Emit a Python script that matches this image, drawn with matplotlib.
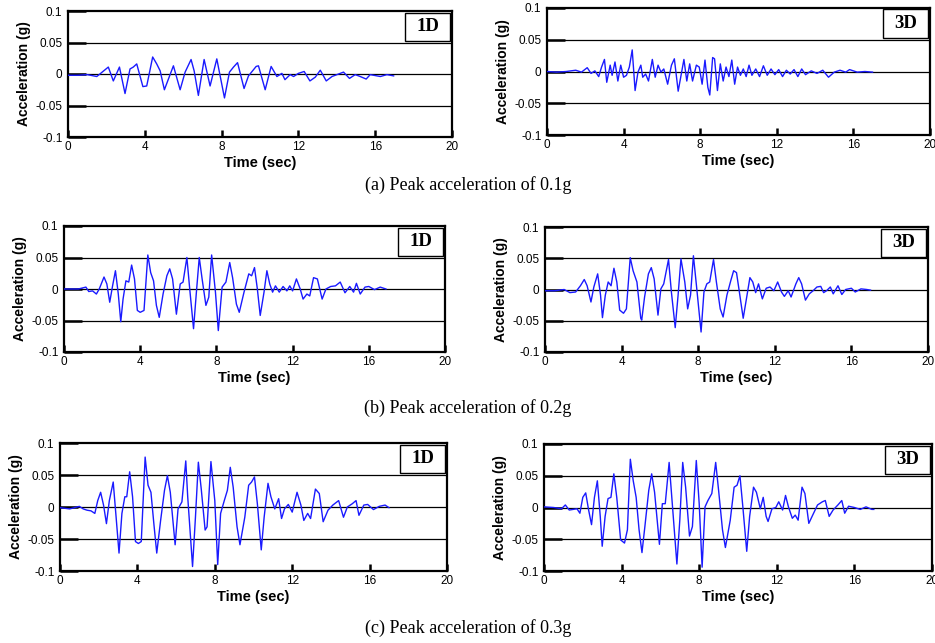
import matplotlib
matplotlib.use("Agg")
import matplotlib.pyplot as plt
from matplotlib.patches import Rectangle

# =====================================================
# DATA (acceleration in g, time in sec)
# =====================================================

t_a1 = [0, 0.5, 1.0, 1.5, 2.1, 2.36, 2.68, 2.97, 3.23, 3.4, 3.58, 3.9, 4.1, 4.41, 4.62, 4.8,
        5.02, 5.49, 5.84, 6.1, 6.41, 6.57, 6.79, 7.09, 7.4, 7.75, 8.15, 8.41, 8.62, 8.83, 9.17,
        9.4, 9.8, 9.92, 10.27, 10.58, 10.88, 11.14, 11.3, 11.57, 11.75, 12.0, 12.3, 12.6, 12.88,
        13.14, 13.45, 13.75, 14.35, 14.66, 14.96, 15.22, 15.53, 15.74, 16.27, 16.61, 16.96]
a_a1 = [-0.002, -0.002, -0.001, -0.004, 0.011, -0.011, 0.011, -0.031, 0.008, 0.011, 0.016,
        -0.020, -0.019, 0.027, 0.016, 0.005, -0.025, 0.013, -0.025, 0.003, 0.023, 0.005, -0.034,
        0.023, -0.019, 0.024, -0.038, 0.003, 0.011, 0.018, -0.023, -0.003, 0.012, 0.013, -0.025,
        0.012, -0.004, 0.001, -0.009, -0.001, -0.004, 0.001, 0.004, -0.011, -0.005, 0.006,
        -0.011, -0.004, 0.003, -0.007, -0.001, -0.004, -0.008, -0.001, -0.004, -0.001, -0.003]

t_a3 = [0, 0.5, 1.0, 1.5, 1.8, 2.1, 2.3, 2.5, 2.7, 2.85, 3.0, 3.12, 3.3, 3.4, 3.55, 3.7, 3.85,
        4.0, 4.15, 4.3, 4.45, 4.6, 4.75, 4.9, 5.0, 5.15, 5.3, 5.5, 5.65, 5.8, 5.95, 6.1, 6.3,
        6.5, 6.65, 6.85, 7.0, 7.15, 7.3, 7.45, 7.6, 7.8, 7.95, 8.1, 8.25, 8.4, 8.5, 8.65, 8.75,
        8.9, 9.05, 9.2, 9.35, 9.5, 9.65, 9.8, 9.95, 10.1, 10.25, 10.4, 10.55, 10.7, 10.9, 11.1,
        11.3, 11.5, 11.7, 11.9, 12.1, 12.3, 12.5, 12.7, 12.9, 13.1, 13.3, 13.5, 13.8, 14.1,
        14.4, 14.7, 15.0, 15.3, 15.6, 15.8, 16.2, 16.6, 17.0]
a_a3 = [0.000, -0.001, 0.000, 0.002, -0.001, 0.006, -0.003, 0.001, -0.008, 0.007, 0.019,
        -0.017, 0.010, -0.006, 0.015, -0.015, 0.010, -0.009, -0.006, 0.007, 0.034, -0.030,
        -0.001, 0.010, -0.009, -0.004, -0.015, 0.019, -0.009, 0.010, -0.001, 0.004, -0.020,
        0.010, 0.020, -0.031, -0.006, 0.019, -0.015, 0.012, -0.015, 0.010, 0.007, -0.020,
        0.018, -0.025, -0.037, 0.022, 0.020, -0.030, 0.012, -0.015, 0.007, -0.008, 0.018,
        -0.020, 0.007, -0.006, 0.004, -0.008, 0.010, -0.006, 0.004, -0.008, 0.009, -0.006,
        0.004, -0.005, 0.003, -0.008, 0.002, -0.004, 0.003, -0.008, 0.004, -0.005, 0.001,
        -0.003, 0.002, -0.009, -0.001, 0.002, -0.001, 0.003, -0.001, 0.000, -0.001]

t_b1 = [0, 0.75, 1.15, 1.3, 1.5, 1.7, 1.85, 2.1, 2.25, 2.4, 2.55, 2.7, 2.85, 2.98, 3.1, 3.25,
        3.4, 3.55, 3.7, 3.85, 4.0, 4.2, 4.4, 4.55, 4.7, 4.85, 5.0, 5.2, 5.4, 5.55, 5.7, 5.9,
        6.1, 6.25, 6.45, 6.6, 6.8, 6.95, 7.1, 7.25, 7.45, 7.6, 7.75, 7.95, 8.1, 8.3, 8.5, 8.7,
        8.85, 9.05, 9.2, 9.45, 9.7, 9.85, 10.0, 10.15, 10.3, 10.5, 10.65, 10.8, 10.95, 11.1,
        11.3, 11.5, 11.7, 11.85, 12.0, 12.2, 12.4, 12.55, 12.75, 12.9, 13.1, 13.3, 13.55,
        13.75, 14.0, 14.25, 14.5, 14.75, 15.0, 15.2, 15.35, 15.55, 15.8, 16.0, 16.3, 16.6, 16.9]
a_b1 = [0.000, 0.000, 0.003, -0.004, -0.003, -0.008, 0.000, 0.019, 0.008, -0.021, 0.005,
        0.029, -0.008, -0.052, -0.016, 0.013, 0.011, 0.038, 0.016, -0.034, -0.037, -0.034,
        0.054, 0.026, 0.013, -0.026, -0.045, -0.008, 0.021, 0.032, 0.016, -0.040, 0.008,
        0.011, 0.050, 0.000, -0.063, -0.005, 0.050, 0.016, -0.026, -0.013, 0.054, -0.005,
        -0.066, 0.003, 0.011, 0.042, 0.018, -0.024, -0.037, -0.005, 0.024, 0.021, 0.034,
        0.000, -0.042, -0.005, 0.029, 0.008, -0.005, 0.005, -0.005, 0.004, -0.003, 0.005,
        -0.003, 0.016, 0.000, -0.016, -0.008, -0.011, 0.018, 0.016, -0.016, 0.000, 0.004,
        0.005, 0.011, -0.006, 0.004, -0.005, 0.009, -0.008, 0.003, 0.004, -0.001, 0.003, 0.000]

t_b3 = [0, 0.5, 1.0, 1.3, 1.6, 1.85, 2.05, 2.2, 2.4, 2.55, 2.75, 2.9, 3.0, 3.15, 3.3, 3.45,
        3.6, 3.75, 3.9, 4.1, 4.25, 4.45, 4.6, 4.8, 5.0, 5.05, 5.2, 5.4, 5.55, 5.7, 5.9, 6.05,
        6.2, 6.45, 6.6, 6.8, 6.95, 7.1, 7.3, 7.45, 7.6, 7.75, 7.9, 8.15, 8.3, 8.45, 8.6, 8.8,
        8.95, 9.15, 9.3, 9.5, 9.7, 9.85, 10.0, 10.15, 10.35, 10.55, 10.7, 10.85, 11.0, 11.15,
        11.35, 11.55, 11.75, 11.95, 12.15, 12.35, 12.5, 12.7, 12.85, 13.1, 13.25, 13.4, 13.6,
        13.8, 14.0, 14.2, 14.4, 14.55, 14.7, 14.9, 15.05, 15.3, 15.5, 15.7, 16.0, 16.2, 16.5,
        16.8, 17.0]
a_b3 = [-0.002, -0.002, 0.000, -0.005, -0.004, 0.006, 0.016, 0.006, -0.020, 0.004, 0.025,
        -0.009, -0.045, -0.009, 0.012, 0.006, 0.034, 0.012, -0.033, -0.038, -0.031, 0.051,
        0.030, 0.012, -0.046, -0.049, -0.012, 0.025, 0.035, 0.017, -0.041, 0.001, 0.009,
        0.048, -0.004, -0.061, -0.009, 0.049, 0.012, -0.031, -0.009, 0.054, 0.009, -0.068,
        -0.004, 0.009, 0.012, 0.048, 0.012, -0.031, -0.044, -0.009, 0.014, 0.030, 0.027,
        -0.004, -0.046, -0.009, 0.019, 0.012, -0.005, 0.009, -0.015, 0.002, 0.004, -0.002,
        0.012, -0.004, -0.011, -0.002, -0.012, 0.009, 0.019, 0.009, -0.017, -0.007, -0.002,
        0.004, 0.005, -0.005, -0.002, 0.004, -0.007, 0.006, -0.008, 0.000, 0.002, -0.004,
        0.001, 0.000, -0.001]

t_c1 = [0, 0.5, 1.0, 1.2, 1.4, 1.6, 1.8, 1.95, 2.1, 2.25, 2.4, 2.55, 2.75, 2.9, 3.05, 3.2,
        3.35, 3.45, 3.6, 3.75, 3.9, 4.05, 4.2, 4.4, 4.55, 4.7, 4.85, 5.0, 5.2, 5.4, 5.55, 5.7,
        5.95, 6.1, 6.3, 6.5, 6.6, 6.85, 7.0, 7.15, 7.3, 7.5, 7.6, 7.8, 8.0, 8.15, 8.3, 8.5,
        8.65, 8.8, 8.95, 9.15, 9.3, 9.55, 9.75, 9.9, 10.05, 10.2, 10.4, 10.55, 10.75, 10.9,
        11.1, 11.3, 11.45, 11.6, 11.8, 12.0, 12.25, 12.45, 12.6, 12.8, 12.95, 13.2, 13.4, 13.6,
        13.85, 14.1, 14.4, 14.65, 14.85, 15.1, 15.3, 15.45, 15.7, 15.9, 16.2, 16.5, 16.8, 17.0]
a_c1 = [-0.001, -0.003, 0.001, -0.003, -0.005, -0.006, -0.010, 0.010, 0.023, 0.003, -0.026,
        0.010, 0.039, -0.016, -0.072, -0.010, 0.016, 0.016, 0.055, 0.016, -0.054, -0.057,
        -0.054, 0.078, 0.034, 0.023, -0.026, -0.072, -0.021, 0.026, 0.049, 0.023, -0.059,
        -0.003, 0.008, 0.072, 0.016, -0.093, -0.016, 0.070, 0.028, -0.036, -0.031, 0.071,
        0.010, -0.090, -0.010, 0.011, 0.026, 0.062, 0.031, -0.031, -0.059, -0.016, 0.034,
        0.039, 0.047, 0.005, -0.067, -0.016, 0.037, 0.016, -0.003, 0.013, -0.018, -0.003,
        0.004, -0.008, 0.023, 0.003, -0.021, -0.010, -0.018, 0.028, 0.021, -0.023, -0.005,
        0.003, 0.010, -0.016, 0.000, 0.005, 0.010, -0.013, 0.003, 0.004, -0.004, 0.001,
        0.003, -0.001]

t_c3 = [0, 0.5, 0.9, 1.1, 1.3, 1.5, 1.7, 1.85, 2.0, 2.15, 2.3, 2.45, 2.6, 2.75, 2.9, 3.0,
        3.15, 3.3, 3.45, 3.6, 3.75, 3.95, 4.15, 4.3, 4.45, 4.6, 4.75, 4.9, 5.05, 5.2, 5.4,
        5.55, 5.7, 5.95, 6.1, 6.25, 6.45, 6.6, 6.85, 7.0, 7.15, 7.3, 7.5, 7.65, 7.85, 8.0,
        8.15, 8.3, 8.45, 8.65, 8.85, 9.0, 9.2, 9.35, 9.6, 9.8, 9.95, 10.1, 10.25, 10.45, 10.6,
        10.8, 10.95, 11.15, 11.3, 11.45, 11.55, 11.75, 11.95, 12.1, 12.3, 12.45, 12.6, 12.8,
        12.95, 13.1, 13.3, 13.45, 13.65, 13.85, 14.1, 14.35, 14.5, 14.7, 14.9, 15.15, 15.35,
        15.5, 15.7, 16.0, 16.3, 16.6, 16.9, 17.0]
a_c3 = [0.001, 0.000, -0.002, 0.004, -0.004, -0.003, -0.002, -0.009, 0.016, 0.023, -0.004,
        -0.027, 0.016, 0.042, -0.014, -0.061, -0.014, 0.014, 0.016, 0.053, 0.016, -0.051,
        -0.056, -0.035, 0.076, 0.042, 0.016, -0.035, -0.071, -0.030, 0.027, 0.053, 0.024,
        -0.058, 0.006, 0.006, 0.071, 0.011, -0.089, -0.020, 0.071, 0.032, -0.045, -0.030,
        0.074, 0.006, -0.094, 0.001, 0.011, 0.022, 0.071, 0.027, -0.035, -0.063, -0.020,
        0.032, 0.035, 0.050, 0.001, -0.069, -0.014, 0.032, 0.024, -0.002, 0.016, -0.014,
        -0.022, -0.002, 0.000, 0.009, -0.004, 0.019, 0.001, -0.017, -0.012, -0.020, 0.032,
        0.022, -0.025, -0.012, 0.004, 0.009, 0.011, -0.014, -0.004, 0.004, 0.011, -0.009,
        0.002, 0.000, -0.003, 0.001, -0.003, -0.003]

panel_tags = ["1D", "3D"]
captions = ["(a) Peak acceleration of 0.1g",
            "(b) Peak acceleration of 0.2g",
            "(c) Peak acceleration of 0.3g"]

y_ticks = [-0.1, -0.05, 0, 0.05, 0.1]
y_ticklabels = ["-0.1", "-0.05", "0", "0.05", "0.1"]
x_ticks = [0, 4, 8, 12, 16, 20]

series = [
    [(t_a1, a_a1), (t_a3, a_a3)],
    [(t_b1, a_b1), (t_b3, a_b3)],
    [(t_c1, a_c1), (t_c3, a_c3)],
]

# =====================================================
# LAYOUT (pixel boxes: left, right, top, bottom)
# =====================================================

W, H = 935, 643

boxes = [
    [(68, 452, 11, 137), (547, 930, 8, 135)],
    [(64, 445, 226, 352), (545, 928, 227, 352)],
    [(60, 447, 443, 571), (544, 932, 444, 571)],
]
caption_y = [185, 408, 628]

SANS = "Liberation Sans"
SERIF = "Liberation Serif"

fig = plt.figure(figsize=(W / 100, H / 100), dpi=100)
fig.patch.set_facecolor("white")

for r in range(3):
    for c in range(2):
        l, rr, t, b = boxes[r][c]
        aw, ah = rr - l, b - t
        ax = fig.add_axes([l / W, 1 - b / H, aw / W, ah / H])
        tt, aa = series[r][c]

        for gy in [-0.05, 0, 0.05]:
            ax.axhline(gy, color="black", lw=0.9, zorder=1)

        ax.plot(tt, aa, color="#1a1aff", lw=1.0, zorder=3)

        ax.set_xlim(0, 20)
        ax.set_ylim(-0.1, 0.1)

        ax.set_xticks(x_ticks)
        ax.set_xticklabels([str(v) for v in x_ticks], fontfamily=SANS, fontsize=8.5)
        ax.set_yticks(y_ticks)
        ax.set_yticklabels(y_ticklabels, fontfamily=SANS, fontsize=8.5)

        ax.tick_params(axis="y", direction="in", length=13, width=1.8, pad=4)
        ax.tick_params(axis="x", direction="in", length=5, width=1.8, pad=3)

        for sp in ax.spines.values():
            sp.set_linewidth(1.6)
            sp.set_color("black")

        ax.set_xlabel("Time (sec)", fontfamily=SANS, fontsize=10.5,
                      fontweight="bold", labelpad=2)
        ax.set_ylabel("Acceleration (g)", fontfamily=SANS, fontsize=10,
                      fontweight="bold", labelpad=3)

        # tag box in the top-right corner
        bw, bh = 45 / aw, 28 / ah
        bx, by = 1 - 2 / aw - bw, 1 - 1.5 / ah - bh
        ax.add_patch(Rectangle((bx, by), bw, bh, transform=ax.transAxes,
                               fc="white", ec="black", lw=1.0, zorder=5))
        ax.text(bx + bw / 2, by + bh / 2, panel_tags[c], transform=ax.transAxes,
                ha="center", va="center", fontfamily=SERIF, fontsize=13.5,
                fontweight="bold", zorder=6)

    fig.text(468 / W, 1 - caption_y[r] / H, captions[r], ha="center",
             va="center", fontfamily=SERIF, fontsize=13)

fig.savefig("out.png", dpi=100)
